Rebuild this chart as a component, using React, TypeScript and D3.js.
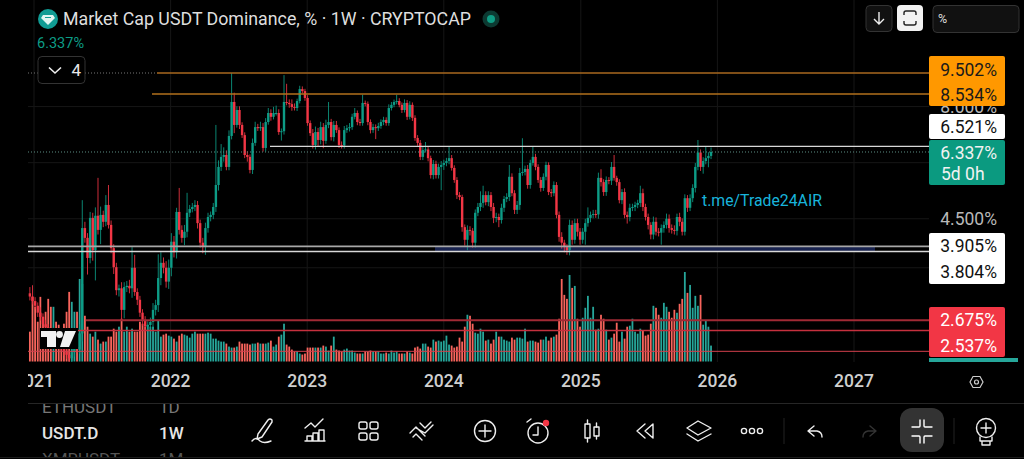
import * as d3 from "d3";

// weekly closes, % (opens follow the previous close)
const closes = [
  3.02, 2.95, 2.88, 2.78, 2.72, 2.62, 2.58, 2.5, 2.46, 2.5,
  2.44, 2.36, 2.32, 2.28, 2.24, 2.2, 2.27, 2.33, 2.3, 2.5,
  4.29, 4.08, 3.68, 4.52, 3.83, 4.57, 4.25, 4.59, 4.43, 4.83,
  4.36, 3.87, 3.51, 3.12, 3.15, 2.82, 3.17, 3.19, 3.15, 3.5,
  3.09, 2.97, 2.78, 2.68, 2.59, 2.61, 2.65, 2.82, 2.89, 3.32,
  3.59, 3.5, 3.26, 3.5, 4.0, 3.79, 4.66, 4.25, 4.08, 4.21,
  4.64, 4.73, 4.78, 4.83, 4.4, 3.98, 3.89, 4.29, 4.54, 4.59,
  4.78, 5.35, 5.87, 6.18, 6.24, 5.87, 6.88, 8.19, 7.28, 7.86,
  7.28, 6.91, 6.24, 6.18, 5.78, 6.64, 7.2, 7.16, 7.2, 6.47,
  7.39, 7.74, 7.59, 7.74, 7.74, 7.02, 7.05, 8.19, 8.15, 8.1,
  7.98, 7.94, 8.23, 8.75, 8.66, 8.36, 7.35, 6.98, 6.57, 7.02,
  6.74, 7.2, 6.71, 7.28, 7.39, 6.84, 7.28, 7.09, 6.57, 6.55,
  7.09, 7.16, 7.2, 7.59, 7.74, 7.39, 7.35, 8.15, 8.11, 7.39,
  7.09, 7.2, 7.16, 7.24, 7.39, 7.47, 7.35, 7.94, 8.07, 8.19,
  8.23, 8.07, 7.86, 8.15, 7.59, 8.07, 7.55, 6.81, 6.64, 6.18,
  6.4, 6.42, 6.14, 5.63, 5.96, 5.63, 5.87, 5.93, 5.99, 6.05,
  6.14, 5.84, 5.49, 5.08, 5.03, 4.31, 4.04, 4.25, 4.23, 3.98,
  4.64, 4.78, 4.88, 5.08, 4.9, 5.08, 4.78, 4.52, 4.54, 4.47,
  4.76, 4.98, 5.03, 5.58, 5.13, 4.71, 4.83, 5.69, 5.72, 5.81,
  5.35, 5.99, 6.18, 5.87, 5.49, 5.27, 5.58, 5.93, 5.16, 5.13,
  5.35, 4.59, 4.1, 3.98, 3.89, 3.83, 4.36, 4.04, 4.4, 4.21,
  4.04, 4.21, 4.4, 4.52, 4.59, 4.61, 4.6, 5.55, 5.43, 5.16,
  5.49, 5.47, 5.87, 5.55, 5.43, 4.95, 5.16, 4.59, 4.54, 4.76,
  4.78, 4.83, 4.88, 5.13, 4.78, 4.54, 4.36, 4.15, 4.43, 4.21,
  4.19, 4.29, 4.36, 4.5, 4.29, 4.25, 4.23, 4.54, 4.43, 4.21,
  5.0, 4.76, 5.0, 5.27, 5.87, 6.32, 5.87, 6.05, 6.14, 6.21, 6.337,
];

// wick length above the body, % points
const upperWicks = [
  0.1, 0.18, 0.06, 0.05, 0.08, 0.05, 0.06, 0.04, 0.05, 0.08,
  0.05, 0.04, 0.05, 0.04, 0.04, 0.05, 0.06, 0.05, 0.08, 0.12,
  0.66, 0.14, 0.1, 0.14, 0.12, 0.2, 0.98, 0.2, 0.1, 0.25,
  0.52, 0.1, 0.08, 0.08, 0.06, 0.1, 0.08, 0.08, 0.1, 0.39,
  0.24, 0.06, 0.06, 0.05, 0.05, 0.05, 0.06, 0.1, 0.08, 0.43,
  0.2, 0.1, 0.12, 0.15, 0.18, 0.12, 0.1, 0.61, 0.1, 0.15,
  0.5, 0.1, 0.1, 0.12, 0.1, 0.08, 0.1, 0.12, 0.1, 0.08,
  0.1, 1.93, 0.2, 0.42, 0.25, 0.15, 0.2, 1.31, 0.4, 0.15,
  0.15, 0.1, 0.1, 0.12, 0.08, 0.15, 0.2, 0.12, 0.2, 0.15,
  0.15, 0.2, 0.15, 0.25, 0.3, 0.15, 0.1, 1.21, 0.8, 0.15,
  0.2, 0.15, 0.1, 0.15, 0.12, 0.1, 0.12, 0.1, 0.15, 0.2,
  0.15, 0.2, 0.15, 0.2, 0.8, 0.12, 0.15, 0.15, 0.1, 0.12,
  0.15, 0.12, 0.15, 0.12, 0.2, 0.1, 0.12, 0.35, 0.1, 0.1,
  0.1, 0.12, 0.1, 0.12, 0.1, 0.12, 0.1, 0.15, 0.12, 0.1,
  0.27, 0.12, 0.1, 0.15, 0.12, 0.15, 0.1, 0.1, 0.1, 0.1,
  0.1, 0.25, 0.1, 0.08, 0.12, 0.1, 0.1, 0.12, 0.1, 0.1,
  0.36, 0.1, 0.08, 0.08, 0.08, 0.06, 0.06, 0.1, 0.08, 0.06,
  0.08, 0.1, 0.3, 0.25, 0.1, 0.1, 0.08, 0.1, 0.1, 0.08,
  0.1, 0.08, 0.1, 0.35, 0.1, 0.08, 0.1, 0.15, 1.08, 0.1,
  0.12, 0.1, 0.32, 0.1, 0.08, 0.08, 0.1, 0.1, 0.08, 0.08,
  0.1, 0.08, 0.08, 0.1, 0.06, 0.06, 0.12, 0.1, 0.1, 0.1,
  0.08, 0.08, 0.1, 0.25, 0.08, 0.1, 0.1, 0.15, 0.25, 0.08,
  0.1, 0.08, 0.15, 0.37, 0.06, 0.08, 0.08, 0.1, 0.08, 0.1,
  0.08, 0.08, 0.08, 0.2, 0.12, 0.08, 0.08, 0.06, 0.12, 0.1,
  0.08, 0.08, 0.08, 0.12, 0.1, 0.08, 0.1, 0.08, 0.1, 0.08,
  0.1, 0.08, 0.1, 0.1, 0.12, 0.42, 0.1, 0.12, 0.36, 0.12, 0.15,
];

// wick length below the body, % points
const lowerWicks = [
  0.06, 0.05, 0.05, 0.06, 0.05, 0.06, 0.04, 0.05, 0.05, 0.04,
  0.05, 0.05, 0.04, 0.05, 0.05, 0.04, 0.04, 0.05, 0.04, 0.05,
  0.1, 0.1, 0.3, 0.1, 0.2, 0.55, 0.1, 0.3, 0.12, 0.1,
  0.08, 0.1, 0.12, 0.08, 0.1, 0.15, 0.12, 0.08, 0.08, 0.15,
  0.06, 0.08, 0.06, 0.08, 0.08, 0.06, 0.06, 0.1, 0.08, 0.1,
  0.12, 0.1, 0.1, 0.12, 0.15, 0.1, 0.12, 0.1, 0.1, 0.15,
  0.12, 0.1, 0.08, 0.1, 0.12, 0.1, 0.12, 0.15, 0.1, 0.1,
  0.1, 0.12, 0.15, 0.12, 0.15, 0.1, 0.1, 0.12, 0.3, 0.1,
  0.15, 0.1, 0.1, 0.15, 0.1, 0.12, 0.1, 0.1, 0.1, 0.12,
  0.12, 0.1, 0.15, 0.1, 0.1, 0.1, 0.3, 0.12, 0.1, 0.15,
  0.15, 0.1, 0.12, 0.1, 0.1, 0.12, 0.1, 0.1, 0.12, 0.15,
  0.2, 0.15, 0.25, 0.1, 0.12, 0.12, 0.15, 0.1, 0.1, 0.1,
  0.1, 0.1, 0.12, 0.1, 0.1, 0.12, 0.1, 0.1, 0.1, 0.12,
  0.12, 0.1, 0.39, 0.1, 0.1, 0.12, 0.1, 0.1, 0.1, 0.1,
  0.1, 0.1, 0.12, 0.1, 0.12, 0.1, 0.12, 0.1, 0.1, 0.1,
  0.1, 0.08, 0.1, 0.1, 0.12, 0.1, 0.1, 0.66, 0.15, 0.1,
  0.1, 0.08, 0.08, 0.1, 0.08, 0.1, 0.12, 0.21, 0.1, 0.1,
  0.1, 0.08, 0.1, 0.12, 0.08, 0.1, 0.1, 0.12, 0.1, 0.16,
  0.08, 0.1, 0.08, 0.1, 0.08, 0.1, 0.1, 0.12, 0.08, 0.1,
  0.1, 0.1, 0.08, 0.1, 0.08, 0.1, 0.08, 0.1, 0.08, 0.1,
  0.08, 0.08, 0.1, 0.12, 0.1, 0.09, 0.1, 0.1, 0.08, 0.1,
  0.1, 0.08, 0.27, 0.08, 0.1, 0.08, 0.08, 0.1, 0.12, 0.1,
  0.1, 0.1, 0.12, 0.08, 0.1, 0.08, 0.1, 0.08, 0.15, 0.1,
  0.08, 0.1, 0.08, 0.1, 0.1, 0.08, 0.1, 0.1, 0.1, 0.08,
  0.08, 0.25, 0.1, 0.08, 0.1, 0.08, 0.08, 0.1, 0.1, 0.08,
  0.08, 0.1, 0.08, 0.1, 0.12, 0.1, 0.12, 0.2, 0.1, 0.28, 0.1,
];

const volumes = [
  30, 65, 55, 40, 65, 45, 50, 63, 55, 55,
  40, 37, 30, 38, 50, 70, 60, 50, 50, 83,
  78, 46, 35, 28, 25, 30, 22, 18, 20, 20,
  25, 25, 33, 30, 35, 43, 30, 35, 30, 33,
  30, 30, 40, 38, 35, 37, 35, 35, 30, 41,
  25, 27, 28, 26, 25, 23, 20, 26, 28, 27,
  26, 24, 28, 30, 28, 28, 28, 28, 29, 28,
  23, 23, 21, 20, 20, 18, 15, 14, 14, 15,
  20, 18, 18, 18, 17, 18, 18, 19, 18, 18,
  18, 19, 21, 15, 17, 25, 27, 38, 17, 15,
  12, 10, 10, 8, 7, 8, 14, 14, 14, 14,
  14, 14, 16, 15, 11, 16, 25, 12, 11, 10,
  12, 13, 11, 11, 9, 8, 8, 8, 10, 10,
  11, 10, 10, 10, 8, 8, 9, 8, 11, 9,
  10, 8, 8, 8, 10, 9, 8, 14, 15, 13,
  18, 18, 15, 14, 22, 20, 21, 20, 21, 26,
  17, 16, 14, 15, 24, 20, 35, 47, 46, 38,
  29, 28, 33, 30, 21, 22, 18, 22, 30, 25,
  25, 22, 21, 20, 24, 22, 24, 24, 23, 33,
  20, 21, 21, 20, 19, 22, 22, 25, 21, 24,
  25, 27, 43, 83, 67, 63, 87, 74, 76, 43,
  35, 44, 54, 66, 44, 55, 32, 33, 47, 43,
  32, 22, 24, 28, 39, 20, 30, 23, 35, 36,
  43, 30, 28, 33, 31, 26, 27, 38, 56, 54,
  47, 44, 59, 55, 50, 44, 52, 49, 58, 63,
  90, 69, 77, 54, 66, 56, 67, 37, 41, 35, 16,
];

const yearTicks = [2021, 2022, 2023, 2024, 2025, 2026, 2027];
const priceTicks = [8, 6, 4.5, 3.5];
const orangeLevels = [9.502, 8.534];
const whiteLevel = 6.521;
const supportLevels = [3.905, 3.804];
const redLevels = [2.675, 2.537, 2.28];
const lastPrice = 6.337;

const W = 1024;
const H = 459;
const AXIS_X = 929;
const PLOT_LEFT = 28;

const x = d3
  .scaleUtc()
  .domain([new Date(Date.UTC(2021, 0, 1)), new Date(Date.UTC(2027, 0, 1))])
  .range([34, 854]);
const y = d3.scaleLog().domain([9.502, 2.537]).range([73, 330.5]);
const yVol = d3.scaleLinear().domain([0, 90]).range([361.5, 272]);

const firstWeek = new Date(Date.UTC(2020, 11, 21));

const candles = closes.map((close, i) => {
  const open = i === 0 ? close + 0.05 : closes[i - 1];
  return {
    date: d3.utcMonday.offset(firstWeek, i),
    open,
    close,
    high: Math.max(open, close) + upperWicks[i],
    low: Math.min(open, close) - lowerWicks[i],
    volume: volumes[i],
  };
});

const UP = "#0d9c86";
const DOWN = "#f23645";
const VOL_UP = "#26a69a";
const VOL_DOWN = "#f8645c";
const FONT = "Roboto, sans-serif";

const PriceBox = ({ top, bottom, fill, color, rows }: any) => (
  <g>
    <rect x={AXIS_X} y={top} width={76} height={bottom - top} rx={2} fill={fill} />
    {rows.map((r: any) => (
      <text
        key={r[0]}
        x={r[0].endsWith("%") ? 997 : 941}
        y={r[1]}
        textAnchor={r[0].endsWith("%") ? "end" : "start"}
        dominantBaseline="central"
        fontSize={17.5}
        fill={color}
      >
        {r[0]}
      </text>
    ))}
  </g>
);

const Icons = () => (
  <g fill="none" stroke="#eee" strokeWidth={1.4} strokeLinecap="round" strokeLinejoin="round">
    {/* pencil */}
    <path d="M258 434 L268 420 Q270 418 272 420 L272 422 L262 437 L257 439 Z" />
    <path d="M252 441 Q256 436 260 441 Q264 444 271 441" />
    {/* chart */}
    <path d="M305 428 L311 423 L315 427 L323 419" />
    <path d="M305 441 H325 M307 441 V436 H312 V441 M313 441 V433 H318 V441 M319 441 V430 H324 V441" />
    {/* grid */}
    <rect x={359} y={422} width={8} height={7} rx={2} />
    <rect x={370} y={422} width={8} height={7} rx={2} />
    <rect x={359} y={433} width={8} height={7} rx={2} />
    <rect x={370} y={433} width={8} height={7} rx={2} />
    {/* double chevron */}
    <path d="M410 433 L416 427 L425 436 M413 437 L416 434 L422 440 M416 428 L425 433 L433 425 M420 423 L425 428 L431 422" />
    {/* plus */}
    <circle cx={485} cy={431} r={10.5} />
    <path d="M479 431 H491 M485 425 V437" />
    {/* alarm */}
    <circle cx={538} cy={433} r={10} />
    <path d="M538 427 V435 H533 M527 422 L531 419" />
    {/* candles */}
    <rect x={585} y={424} width={5} height={14} />
    <rect x={594} y={427} width={5} height={9} />
    <path d="M587.5 420 V424 M587.5 438 V442 M596.5 423 V427 M596.5 436 V439" />
    {/* rewind */}
    <path d="M645 424 L637 431 L645 438 M653 424 L645 431 L653 438 Z" />
    {/* layers */}
    <path d="M698 421 L711 428 L698 435 L687 428 Z M687 434 L698 441 L711 434" />
    {/* more */}
    <circle cx={744} cy={431} r={2.6} />
    <circle cx={752} cy={431} r={2.6} />
    <circle cx={760} cy={431} r={2.6} />
    {/* undo */}
    <path d="M814 426 L808 431 L814 436 M808 431 H817 Q822 432 822 437" />
    {/* redo */}
    <path d="M870 426 L876 431 L870 436 M876 431 H868 Q863 432 863 437" stroke="#333" />
    {/* collapse */}
    <path d="M912 427 H919 Q920 427 920 426 V420 M932 427 H925 Q924 427 924 426 V420 M912 436 H919 Q920 436 920 437 V443 M932 436 H925 Q924 436 924 437 V443" stroke="#fff" />
    {/* bulb */}
    <circle cx={986} cy={428} r={9.5} />
    <path d="M981 428 H991 M986 423 V433 M980 437 V441 H992 V437 M982 442 V445 H990 V442" />
  </g>
);

const App = () => {
  const clipId = "plot-clip";
  return (
    <svg
      width={W}
      height={H}
      viewBox={`0 0 ${W} ${H}`}
      style={{ position: "absolute", left: 0, top: 0, background: "#000" }}
      fontFamily={FONT}
    >
      <defs>
        <clipPath id={clipId}>
          <rect x={PLOT_LEFT} y={0} width={AXIS_X - PLOT_LEFT} height={362} />
        </clipPath>
        <clipPath id="axis-clip">
          <rect x={PLOT_LEFT} y={362} width={W - PLOT_LEFT} height={40} />
        </clipPath>
        <clipPath id="list-clip">
          <rect x={0} y={404} width={240} height={53} />
        </clipPath>
      </defs>
      <rect width={W} height={H} fill="#000" />

      {/* grid */}
      {yearTicks.map((t) => {
        const px = x(new Date(Date.UTC(t, 0, 1)));
        return <line key={t} x1={px} x2={px} y1={0} y2={362} stroke="#161616" />;
      })}
      {priceTicks.map((t) => (
        <line key={t} x1={PLOT_LEFT} x2={AXIS_X} y1={y(t)} y2={y(t)} stroke="#161616" />
      ))}

      <g clipPath={`url(#${clipId})`}>
        {/* volume */}
        {candles.map((d, i) => (
          <rect
            key={i}
            x={x(d.date) - 0.9}
            y={yVol(d.volume)}
            width={1.8}
            height={yVol(0) - yVol(d.volume)}
            fill={d.close >= d.open ? VOL_UP : VOL_DOWN}
          />
        ))}

        {/* blue band between the supports */}
        <rect
          x={435}
          width={440}
          y={y(supportLevels[0])}
          height={y(supportLevels[1]) - y(supportLevels[0])}
          fill="#18224e"
        />

        {/* candles */}
        {candles.map((d, i) => {
          const c = d.close >= d.open ? UP : DOWN;
          const top = y(Math.max(d.open, d.close));
          const bottom = y(Math.min(d.open, d.close));
          return (
            <g key={i}>
              <line x1={x(d.date)} x2={x(d.date)} y1={y(d.high)} y2={y(d.low)} stroke={c} strokeWidth={1} opacity={0.85} />
              <rect x={x(d.date) - 1.2} y={top} width={2.4} height={Math.max(bottom - top, 1)} fill={c} />
            </g>
          );
        })}

        {/* dotted high and last price lines */}
        <line x1={PLOT_LEFT} x2={157} y1={y(9.502)} y2={y(9.502)} stroke="#777" strokeDasharray="1 2" />
        <line x1={PLOT_LEFT} x2={AXIS_X} y1={y(lastPrice)} y2={y(lastPrice)} stroke="#5d8f85" strokeDasharray="1 2" />

        {/* drawn levels */}
        <line x1={157} x2={AXIS_X} y1={y(orangeLevels[0])} y2={y(orangeLevels[0])} stroke="#a9681f" strokeWidth={1.5} />
        <line x1={152} x2={AXIS_X} y1={y(orangeLevels[1])} y2={y(orangeLevels[1])} stroke="#b2701c" strokeWidth={1.5} />
        <line x1={270} x2={AXIS_X} y1={y(whiteLevel)} y2={y(whiteLevel)} stroke="#d8d8d8" strokeWidth={1.3} />
        <line x1={PLOT_LEFT} x2={AXIS_X} y1={y(supportLevels[0])} y2={y(supportLevels[0])} stroke="#a8a8a8" strokeWidth={1.6} />
        <line x1={PLOT_LEFT} x2={AXIS_X} y1={y(supportLevels[1])} y2={y(supportLevels[1])} stroke="#d8d8d8" strokeWidth={1.3} />
        <line x1={86} x2={AXIS_X} y1={y(redLevels[0])} y2={y(redLevels[0])} stroke="#a12a35" strokeWidth={2} />
        <line x1={78} x2={AXIS_X} y1={y(redLevels[1])} y2={y(redLevels[1])} stroke="#c5303e" strokeWidth={1.5} />
        <line x1={PLOT_LEFT} x2={AXIS_X} y1={y(redLevels[2])} y2={y(redLevels[2])} stroke="#d2404d" strokeWidth={1} />
      </g>

      {/* logo */}
      <g>
        <rect x={40} y={328} width={38} height={21} fill="#000" />
        <path d="M41 331 H56 V347 H47 V337 H41 Z" fill="#f2f2f2" />
        <circle cx={59.5} cy={334.5} r={3.4} fill="#f2f2f2" />
        <path d="M65 331 H76 L69 347 H60 Z" fill="#f2f2f2" />
      </g>

      {/* header */}
      <circle cx={48} cy={19} r={10} fill="#109c94" />
      <path d="M43 15 H53 L55 18 L48 25 L41 18 Z" fill="#dff6f2" />
      <path d="M45 17.5 H51" stroke="#109c94" strokeWidth={1} />
      <text x={63} y={25} fontSize={17.8} fill="#dedede">
        Market Cap USDT Dominance, % · 1W · CRYPTOCAP
      </text>
      <circle cx={491} cy={19} r={8.5} fill="#0c3a32" />
      <circle cx={491} cy={19} r={4} fill="#0f9d84" />
      <text x={37} y={48} fontSize={14.5} fill="#0d9c86">
        6.337%
      </text>
      <rect x={38} y={56.5} width={47} height={27} rx={4} fill="#000" stroke="#333" />
      <path d="M49 67.5 L55 73 L61 67.5" fill="none" stroke="#eee" strokeWidth={1.6} />
      <text x={71.5} y={76} fontSize={17} fill="#e8e8e8">
        4
      </text>

      {/* top right controls */}
      <rect x={866} y={5.5} width={26} height={26} rx={4} fill="#111" stroke="#333" />
      <path d="M879 12 V24 M874 19 L879 24 L884 19" fill="none" stroke="#eee" strokeWidth={1.4} />
      <rect x={897} y={5} width={26} height={26} rx={4} fill="#f2f2f2" />
      <path d="M904 15 V13 Q904 11 906 11 H914 Q916 11 916 13 V15 M904 21 V23 Q904 25 906 25 H914 Q916 25 916 23 V21" fill="none" stroke="#222" strokeWidth={1.4} />
      <rect x={933} y={5.5} width={86} height={27} rx={4} fill="#111" stroke="#333" />
      <text x={938} y={23} fontSize={12.5} fill="#ddd">
        %
      </text>

      <text x={702} y={205.5} fontSize={15.8} fill="#18b4dc">
        t.me/Trade24AIR
      </text>

      {/* price axis */}
      {priceTicks
        .filter((t) => t === 8 || t === 4.5)
        .map((t) => (
          <text key={t} x={997} y={y(t)} textAnchor="end" dominantBaseline="central" fontSize={17.5} fill="#b8b8b8">
            {t.toFixed(3)}%
          </text>
        ))}
      <PriceBox
        top={56}
        bottom={106}
        fill="#ff9800"
        color="#1a1a1a"
        rows={[
          ["9.502%", 70],
          ["8.534%", 95],
        ]}
      />
      <PriceBox top={114} bottom={139} fill="#fff" color="#111" rows={[["6.521%", 127]]} />
      <PriceBox
        top={140}
        bottom={185}
        fill="#0b9a80"
        color="#f2f2f2"
        rows={[
          ["6.337%", 153],
          ["5d 0h", 174],
        ]}
      />
      <PriceBox
        top={233}
        bottom={284}
        fill="#fff"
        color="#111"
        rows={[
          ["3.905%", 246],
          ["3.804%", 272],
        ]}
      />
      <PriceBox
        top={307}
        bottom={357}
        fill="#f23645"
        color="#fff"
        rows={[
          ["2.675%", 320],
          ["2.537%", 346],
        ]}
      />
      <rect x={AXIS_X} y={358} width={89} height={4} fill="#26a69a" />

      {/* time axis */}
      <g clipPath="url(#axis-clip)">
        {yearTicks.map((t) => (
          <text
            key={t}
            x={x(new Date(Date.UTC(t, 0, 1)))}
            y={381}
            textAnchor="middle"
            dominantBaseline="central"
            fontSize={17.5}
            fontWeight={500}
            fill="#cfcfcf"
          >
            {t}
          </text>
        ))}
      </g>
      <path d="M970 382 L973 376.5 H980 L983 382 L980 387.5 H973 Z" fill="none" stroke="#ccc" strokeWidth={1.2} />
      <circle cx={976.5} cy={382} r={2} fill="none" stroke="#ccc" strokeWidth={1.2} />

      {/* bottom bar */}
      <line x1={28} x2={W} y1={403.5} y2={403.5} stroke="#262626" />
      <line x1={0} x2={W} y1={457.5} y2={457.5} stroke="#1c1c1c" />
      <g clipPath="url(#list-clip)" fontSize={17}>
        <text x={42} y={413} fill="#777">ETHUSDT</text>
        <text x={159} y={413} fill="#777">1D</text>
        <text x={42} y={439} fill="#e6e6e6" fontWeight={500}>USDT.D</text>
        <text x={159} y={439} fill="#e6e6e6" fontWeight={500}>1W</text>
        <text x={42} y={465} fill="#555">XMRUSDT</text>
        <text x={159} y={465} fill="#555">1M</text>
      </g>
      <rect x={900} y={408} width={44} height={44} rx={12} fill="#333" />
      <line x1={784} x2={784} y1={418} y2={444} stroke="#222" />
      <line x1={954} x2={954} y1={418} y2={444} stroke="#222" />
      <Icons />
      <circle cx={546} cy={423} r={3.2} fill="#f23645" />
    </svg>
  );
};

export default App;
